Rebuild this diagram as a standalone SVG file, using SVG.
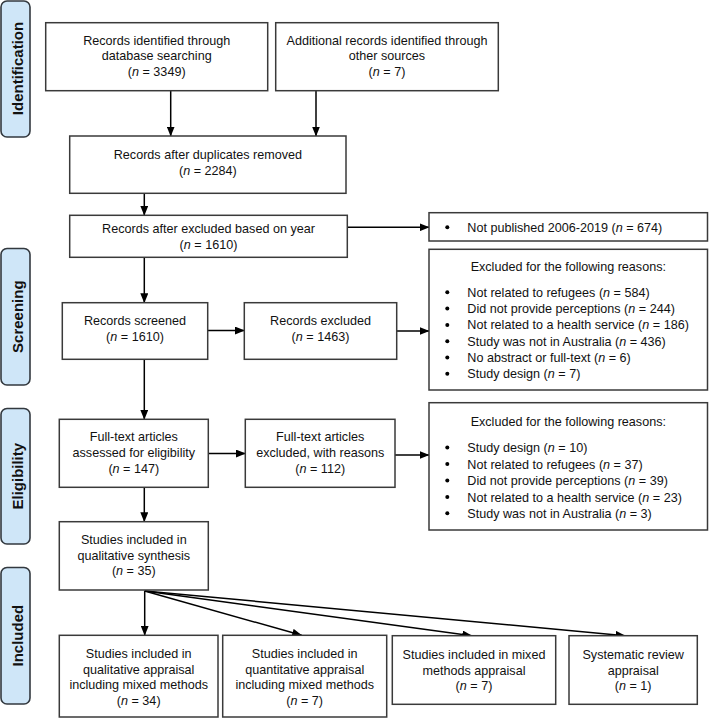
<svg xmlns="http://www.w3.org/2000/svg" width="709" height="718" viewBox="0 0 709 718">
<defs>
<marker id="ah" markerUnits="userSpaceOnUse" markerWidth="10" markerHeight="8" refX="9.5" refY="4" orient="auto">
<path d="M0,0 L10,4 L0,8 z" fill="#000"/>
</marker>
<style>
.box{fill:#fff;stroke:#3a3a3a;stroke-width:1.5}
.lab{fill:#cfe6f8;stroke:#33393f;stroke-width:1.6}
.t{font-family:"Liberation Sans",Arial,sans-serif;font-size:12.6px;fill:#111;text-anchor:middle}
.tl{font-family:"Liberation Sans",Arial,sans-serif;font-size:12.6px;fill:#111}
.lt{font-family:"Liberation Sans",Arial,sans-serif;font-size:15px;font-weight:bold;fill:#111;text-anchor:middle}
.c{stroke:#000;stroke-width:1.5;fill:none;marker-end:url(#ah)}
i{font-style:italic}
</style>
</defs>
<rect width="709" height="718" fill="#fff"/>

<g id="label-identification">
<rect class="lab" x="1" y="1" width="29" height="136" rx="6"/>
<text class="lt" transform="translate(22.5,68.5) rotate(-90)">Identification</text>
</g>
<g id="label-screening">
<rect class="lab" x="1" y="248.5" width="29" height="136.5" rx="6"/>
<text class="lt" transform="translate(22.5,316.7) rotate(-90)">Screening</text>
</g>
<g id="label-eligibility">
<rect class="lab" x="1" y="408.5" width="29" height="135.5" rx="6"/>
<text class="lt" transform="translate(22.5,476.2) rotate(-90)">Eligibility</text>
</g>
<g id="label-included">
<rect class="lab" x="1" y="567.5" width="29" height="136.5" rx="6"/>
<text class="lt" transform="translate(22.5,635.7) rotate(-90)">Included</text>
</g>

<g id="connectors">
<line class="c" x1="170.7" y1="90.7" x2="170.7" y2="136"/>
<line class="c" x1="316" y1="90.7" x2="316" y2="136"/>
<line class="c" x1="144.3" y1="193.3" x2="144.3" y2="215.3"/>
<line class="c" x1="347.3" y1="227.3" x2="429" y2="227.3"/>
<line class="c" x1="144.3" y1="257.3" x2="144.3" y2="302.7"/>
<line class="c" x1="207.7" y1="330.5" x2="244.3" y2="330.5"/>
<line class="c" x1="396.7" y1="331" x2="429" y2="331"/>
<line class="c" x1="144.3" y1="359.3" x2="144.3" y2="419.3"/>
<line class="c" x1="208.3" y1="453.5" x2="245.3" y2="453.5"/>
<line class="c" x1="395" y1="455" x2="429" y2="455"/>
<line class="c" x1="144.3" y1="487.3" x2="144.3" y2="521.7"/>
<line class="c" x1="144.7" y1="591" x2="144.7" y2="635.3"/>
<line class="c" x1="144.7" y1="591" x2="301.7" y2="635.3"/>
<line class="c" x1="144.7" y1="591" x2="471.7" y2="635.7"/>
<line class="c" x1="144.7" y1="591" x2="625" y2="635.7"/>
</g>

<g id="n-db">
<rect class="box" x="45.7" y="22.7" width="222" height="68"/>
<text class="t" x="156.7" y="44.5">Records identified through</text>
<text class="t" x="156.7" y="60.3">database searching</text>
<text class="t" x="156.7" y="76.2">(<tspan font-style="italic">n</tspan> = 3349)</text>
</g>
<g id="n-other">
<rect class="box" x="275.7" y="22.7" width="222.6" height="68"/>
<text class="t" x="387" y="44.5">Additional records identified through</text>
<text class="t" x="387" y="60.3">other sources</text>
<text class="t" x="387" y="76.2">(<tspan font-style="italic">n</tspan> = 7)</text>
</g>
<g id="n-dup">
<rect class="box" x="69.7" y="136" width="276.3" height="57.3"/>
<text class="t" x="207.9" y="158.5">Records after duplicates removed</text>
<text class="t" x="207.9" y="174.5">(<tspan font-style="italic">n</tspan> = 2284)</text>
</g>
<g id="n-year">
<rect class="box" x="69.7" y="215.3" width="277.6" height="42"/>
<text class="t" x="208.5" y="232.8">Records after excluded based on year</text>
<text class="t" x="208.5" y="248.8">(<tspan font-style="italic">n</tspan> = 1610)</text>
</g>
<g id="n-notpub">
<rect class="box" x="429" y="212.7" width="278.5" height="28.3"/>
<circle cx="447.3" cy="227.3" r="2"/>
<text class="tl" x="467.3" y="231.8">Not published 2006-2019 (<tspan font-style="italic">n</tspan> = 674)</text>
</g>
<g id="n-screened">
<rect class="box" x="62.3" y="302.7" width="145.4" height="56.6"/>
<text class="t" x="135" y="325.2">Records screened</text>
<text class="t" x="135" y="341.2">(<tspan font-style="italic">n</tspan> = 1610)</text>
</g>
<g id="n-recexcl">
<rect class="box" x="244.3" y="302.7" width="152.4" height="56.6"/>
<text class="t" x="320.5" y="325.2">Records excluded</text>
<text class="t" x="320.5" y="341.2">(<tspan font-style="italic">n</tspan> = 1463)</text>
</g>
<g id="n-excl1">
<rect class="box" x="429" y="249.3" width="278.5" height="140.7"/>
<text class="t" x="568.3" y="271.2">Excluded for the following reasons:</text>
<circle cx="447.3" cy="292.3" r="2"/>
<circle cx="447.3" cy="308.6" r="2"/>
<circle cx="447.3" cy="324.9" r="2"/>
<circle cx="447.3" cy="341.2" r="2"/>
<circle cx="447.3" cy="357.5" r="2"/>
<circle cx="447.3" cy="373.8" r="2"/>
<text class="tl" x="467.3" y="296.8">Not related to refugees (<tspan font-style="italic">n</tspan> = 584)</text>
<text class="tl" x="467.3" y="313.1">Did not provide perceptions (<tspan font-style="italic">n</tspan> = 244)</text>
<text class="tl" x="467.3" y="329.4">Not related to a health service (<tspan font-style="italic">n</tspan> = 186)</text>
<text class="tl" x="467.3" y="345.7">Study was not in Australia (<tspan font-style="italic">n</tspan> = 436)</text>
<text class="tl" x="467.3" y="362">No abstract or full-text (<tspan font-style="italic">n</tspan> = 6)</text>
<text class="tl" x="467.3" y="378.3">Study design (<tspan font-style="italic">n</tspan> = 7)</text>
</g>
<g id="n-fulltext">
<rect class="box" x="59.3" y="419.3" width="149" height="68"/>
<text class="t" x="133.8" y="441.2">Full-text articles</text>
<text class="t" x="133.8" y="457">assessed for eligibility</text>
<text class="t" x="133.8" y="472.6">(<tspan font-style="italic">n</tspan> = 147)</text>
</g>
<g id="n-ftexcl">
<rect class="box" x="245.3" y="419.3" width="149.7" height="68"/>
<text class="t" x="320.2" y="441.2">Full-text articles</text>
<text class="t" x="320.2" y="457">excluded, with reasons</text>
<text class="t" x="320.2" y="472.6">(<tspan font-style="italic">n</tspan> = 112)</text>
</g>
<g id="n-excl2">
<rect class="box" x="429" y="402.7" width="278.5" height="127.3"/>
<text class="t" x="568.3" y="426.2">Excluded for the following reasons:</text>
<circle cx="447.3" cy="447.5" r="2"/>
<circle cx="447.3" cy="464" r="2"/>
<circle cx="447.3" cy="480.5" r="2"/>
<circle cx="447.3" cy="497" r="2"/>
<circle cx="447.3" cy="513.3" r="2"/>
<text class="tl" x="467.3" y="452">Study design (<tspan font-style="italic">n</tspan> = 10)</text>
<text class="tl" x="467.3" y="468.5">Not related to refugees (<tspan font-style="italic">n</tspan> = 37)</text>
<text class="tl" x="467.3" y="485">Did not provide perceptions (<tspan font-style="italic">n</tspan> = 39)</text>
<text class="tl" x="467.3" y="501.5">Not related to a health service (<tspan font-style="italic">n</tspan> = 23)</text>
<text class="tl" x="467.3" y="517.8">Study was not in Australia (<tspan font-style="italic">n</tspan> = 3)</text>
</g>
<g id="n-synth">
<rect class="box" x="59.3" y="521.7" width="149" height="68.3"/>
<text class="t" x="133.8" y="543.8">Studies included in</text>
<text class="t" x="133.8" y="559.5">qualitative synthesis</text>
<text class="t" x="133.8" y="575.2">(<tspan font-style="italic">n</tspan> = 35)</text>
</g>
<g id="n-qual">
<rect class="box" x="59.3" y="635.3" width="158.7" height="81.7"/>
<text class="t" x="138.7" y="657.8">Studies included in</text>
<text class="t" x="138.7" y="673.5">qualitative appraisal</text>
<text class="t" x="138.7" y="689">including mixed methods</text>
<text class="t" x="138.7" y="704.6">(<tspan font-style="italic">n</tspan> = 34)</text>
</g>
<g id="n-quant">
<rect class="box" x="222.7" y="635.3" width="164" height="81.7"/>
<text class="t" x="304.7" y="657.8">Studies included in</text>
<text class="t" x="304.7" y="673.5">quantitative appraisal</text>
<text class="t" x="304.7" y="689">including mixed methods</text>
<text class="t" x="304.7" y="704.6">(<tspan font-style="italic">n</tspan> = 7)</text>
</g>
<g id="n-mixed">
<rect class="box" x="392.3" y="635.7" width="163.4" height="68.6"/>
<text class="t" x="474" y="658.5">Studies included in mixed</text>
<text class="t" x="474" y="674.5">methods appraisal</text>
<text class="t" x="474" y="689.5">(<tspan font-style="italic">n</tspan> = 7)</text>
</g>
<g id="n-sr">
<rect class="box" x="569" y="635.7" width="128.3" height="68.6"/>
<text class="t" x="633.2" y="658.5">Systematic review</text>
<text class="t" x="633.2" y="674.5">appraisal</text>
<text class="t" x="633.2" y="689.5">(<tspan font-style="italic">n</tspan> = 1)</text>
</g>
</svg>
